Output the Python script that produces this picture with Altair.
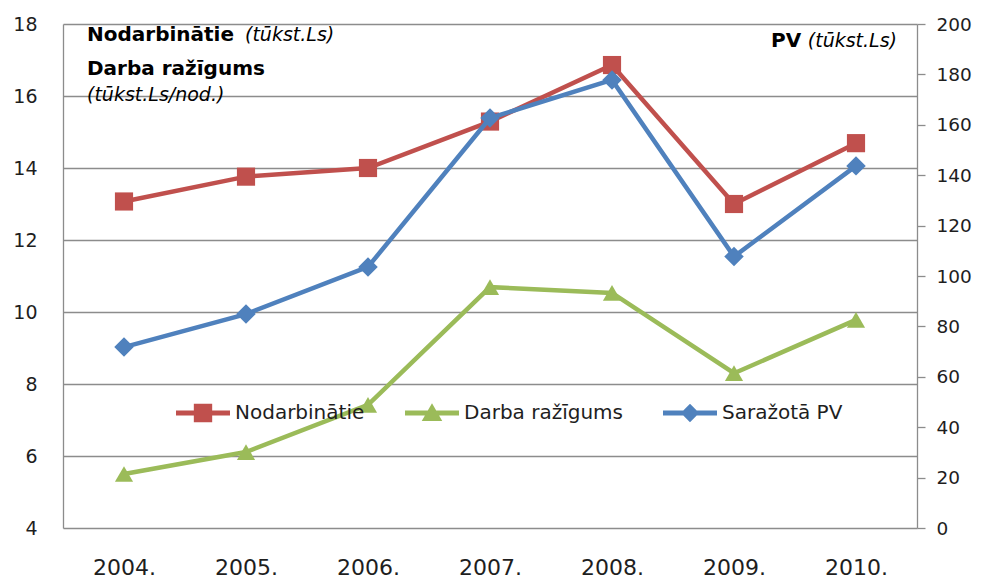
import altair as alt
import pandas as pd

years = ["2004.", "2005.", "2006.", "2007.", "2008.", "2009.", "2010."]
nodarbinatie = [13.07, 13.76, 14.0, 15.29, 16.86, 13.0, 14.69]
razigums = [5.5, 6.11, 7.42, 10.69, 10.53, 8.3, 9.78]
pv = [71.8, 84.9, 103.6, 162.7, 177.8, 107.7, 143.7]

series_names = ["Nodarbinātie", "Darba ražīgums", "Saražotā PV"]
series_colors = ["#C0504D", "#9BBB59", "#4F81BD"]
series_shapes = ["square", "triangle-up", "diamond"]
legend_paths = [
    "M-1,-0.09H1V0.09H-1Z M-0.34,-0.34H0.34V0.34H-0.34Z",
    "M-1,-0.09H1V0.09H-1Z M0,-0.36L0.38,0.3H-0.38Z",
    "M-1,-0.09H1V0.09H-1Z M0,-0.34L0.34,0L0,0.34L-0.34,0Z",
]
left_ticks = [4, 6, 8, 10, 12, 14, 16, 18]
right_ticks = [0, 20, 40, 60, 80, 100, 120, 140, 160, 180, 200]

rows = []
for yr, a, b, c in zip(years, nodarbinatie, razigums, pv):
    rows.append({"year": yr, "series": series_names[0], "value": a})
    rows.append({"year": yr, "series": series_names[1], "value": b})
    rows.append({"year": yr, "series": series_names[2], "value": c})
df = pd.DataFrame(rows)

FONT = "DejaVu Sans"
GRID = "#8c8c8c"
TXT = "#1e1e1e"

x_axis = alt.Axis(labelAngle=0, ticks=False, domain=False, grid=False,
                  labelPadding=29, labelFontSize=22, labelColor=TXT, labelFont=FONT)
x_enc = alt.X("year:N", sort=years, title="", scale=alt.Scale(padding=0.5), axis=x_axis)

y_left = alt.Y("value:Q", title="", scale=alt.Scale(domain=[4, 18], nice=False, zero=False),
               axis=alt.Axis(values=left_ticks, orient="left", grid=True,
                             gridColor=GRID, gridWidth=1.3, ticks=False, domain=True,
                             domainColor=GRID, domainWidth=1.3, labelPadding=26,
                             labelFontSize=19, labelColor=TXT, labelFont=FONT))

y_right = alt.Y("value:Q", title="", scale=alt.Scale(domain=[0, 200], nice=False),
                axis=alt.Axis(values=right_ticks, orient="right", grid=False,
                              ticks=True, tickSize=8, tickColor=GRID, tickWidth=1.3,
                              domain=True, domainColor=GRID, domainWidth=1.3,
                              labelPadding=11, labelFontSize=18.5, labelColor=TXT,
                              labelFont=FONT))

base = alt.Chart(df)

def line_layer(i, y):
    return base.transform_filter(alt.datum.series == series_names[i]).mark_line(
        strokeWidth=4.5, color=series_colors[i]).encode(x=x_enc, y=y)

def point_layer(i, size, y):
    return base.transform_filter(alt.datum.series == series_names[i]).mark_point(
        shape=series_shapes[i], filled=True, size=size, opacity=1, strokeWidth=0,
        color=series_colors[i]).encode(x=x_enc, y=y)

leg = dict(orient="none", legendX=113, legendY=362, direction="horizontal", title=None,
           symbolSize=2916, labelFontSize=20, labelFont=FONT, labelColor=TXT,
           labelOffset=5, columnPadding=40, padding=0, symbolStrokeWidth=0,
           labelLimit=400)

legend_layer = base.transform_filter("false").mark_point(filled=True, opacity=1, strokeWidth=0).encode(
    color=alt.Color("series:N", scale=alt.Scale(domain=series_names, range=series_colors),
                    legend=alt.Legend(**leg)),
    shape=alt.Shape("series:N", scale=alt.Scale(domain=series_names, range=legend_paths),
                    legend=alt.Legend(**leg)),
)

ann = alt.Chart(alt.Data(values=[{}]))

def text(t, x, y, weight="normal", style="normal", align="left", size=20):
    return ann.mark_text(text=t, align=align, baseline="alphabetic", font=FONT,
                         fontSize=size, fontWeight=weight, fontStyle=style, color="#000").encode(
        x=alt.value(x), y=alt.value(y))

annotations = [
    text("Nodarbinātie", 24, 17, weight="bold"),
    text("(tūkst.Ls)", 182, 17, style="italic", size=19),
    text("Darba  ražīgums", 24, 51, weight="bold"),
    text("(tūkst.Ls/nod.)", 24, 77, style="italic", size=19),
    text("PV", 708, 23, weight="bold"),
    text("(tūkst.Ls)", 834, 23, style="italic", size=19, align="right"),
]

left = alt.layer(
    line_layer(0, y_left),
    line_layer(1, y_left),
    point_layer(0, 330, y_left),
    point_layer(1, 330, y_left),
)

right = alt.layer(
    line_layer(2, y_right),
    point_layer(2, 380, y_right),
)

chart = alt.layer(legend_layer, left, right, *annotations).resolve_scale(y="independent").properties(
    width=854, height=504,
    autosize=alt.AutoSizeParams(type="none"),
    padding={"left": 55, "top": 16, "right": 59, "bottom": 52},
    background="white",
).configure_view(strokeWidth=0)

chart.save("out.html", embed_options={"renderer": "svg", "actions": False})
